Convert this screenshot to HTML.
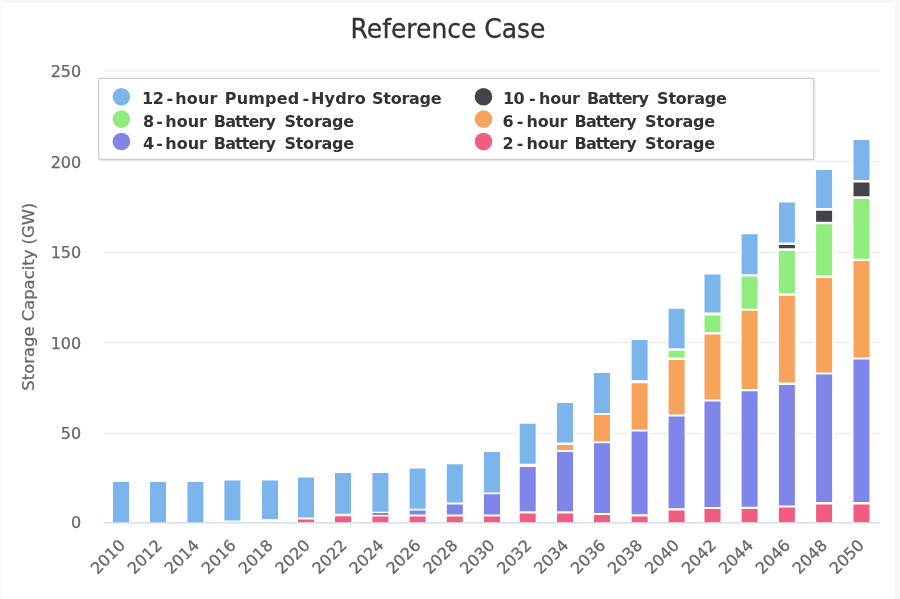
<!DOCTYPE html>
<html lang="en"><head><meta charset="utf-8"><title>Reference Case</title>
<style>html,body{margin:0;padding:0;background:#fff;overflow:hidden}svg{display:block}text{font-family:"DejaVu Sans","Liberation Sans",sans-serif}</style></head><body>
<svg xmlns="http://www.w3.org/2000/svg" width="900" height="599" viewBox="0 0 900 599">
<rect width="900" height="599" fill="#ffffff"/>
<rect x="0" y="0" width="900" height="3" fill="#f8f8f8"/>
<rect x="0" y="0" width="1.5" height="599" fill="#f8f8f8"/>
<rect x="894.5" y="0" width="5.5" height="599" fill="#f7f7f7"/>
<g stroke="#e6e6e6" stroke-width="1">
<line x1="104" x2="879.5" y1="71.0" y2="71.0"/>
<line x1="815" x2="879.5" y1="161.5" y2="161.5"/>
<line x1="104" x2="879.5" y1="252.4" y2="252.4"/>
<line x1="104" x2="879.5" y1="342.5" y2="342.5"/>
<line x1="104" x2="879.5" y1="433.3" y2="433.3"/>
</g>
<g>
<rect x="110.70" y="480" width="20.6" height="42.50" fill="#ffffff"/>
<rect x="113.00" y="482" width="16.0" height="40.50" fill="#7cb5ec"/>
<rect x="147.70" y="480" width="20.6" height="42.50" fill="#ffffff"/>
<rect x="150.00" y="482" width="16.0" height="40.50" fill="#7cb5ec"/>
<rect x="185.10" y="480" width="20.6" height="42.50" fill="#ffffff"/>
<rect x="187.40" y="482" width="16.0" height="40.50" fill="#7cb5ec"/>
<rect x="222.10" y="478.5" width="20.6" height="44.00" fill="#ffffff"/>
<rect x="224.40" y="480.5" width="16.0" height="40.00" fill="#7cb5ec"/>
<rect x="259.70" y="478.5" width="20.6" height="44.00" fill="#ffffff"/>
<rect x="262.00" y="480.5" width="16.0" height="38.50" fill="#7cb5ec"/>
<rect x="295.70" y="475.5" width="20.6" height="47.00" fill="#ffffff"/>
<rect x="298.00" y="477.5" width="16.0" height="40.00" fill="#7cb5ec"/>
<rect x="298.00" y="519.5" width="16.0" height="3.00" fill="#f15c80"/>
<rect x="332.70" y="471" width="20.6" height="51.50" fill="#ffffff"/>
<rect x="335.00" y="473" width="16.0" height="40.75" fill="#7cb5ec"/>
<rect x="335.00" y="516.25" width="16.0" height="6.25" fill="#f15c80"/>
<rect x="370.10" y="471" width="20.6" height="51.50" fill="#ffffff"/>
<rect x="372.40" y="473" width="16.0" height="38.75" fill="#7cb5ec"/>
<rect x="372.40" y="513" width="16.0" height="2.00" fill="#8085e9"/>
<rect x="372.40" y="516.5" width="16.0" height="6.00" fill="#f15c80"/>
<rect x="407.30" y="466.5" width="20.6" height="56.00" fill="#ffffff"/>
<rect x="409.60" y="468.5" width="16.0" height="40.25" fill="#7cb5ec"/>
<rect x="409.60" y="510.5" width="16.0" height="4.00" fill="#8085e9"/>
<rect x="409.60" y="516.5" width="16.0" height="6.00" fill="#f15c80"/>
<rect x="444.50" y="462.25" width="20.6" height="60.25" fill="#ffffff"/>
<rect x="446.80" y="464.25" width="16.0" height="38.25" fill="#7cb5ec"/>
<rect x="446.80" y="504.5" width="16.0" height="10.00" fill="#8085e9"/>
<rect x="446.80" y="516.5" width="16.0" height="6.00" fill="#f15c80"/>
<rect x="481.70" y="450" width="20.6" height="72.50" fill="#ffffff"/>
<rect x="484.00" y="452" width="16.0" height="40.50" fill="#7cb5ec"/>
<rect x="484.00" y="494.25" width="16.0" height="20.25" fill="#8085e9"/>
<rect x="484.00" y="516.5" width="16.0" height="6.00" fill="#f15c80"/>
<rect x="517.40" y="421.75" width="20.6" height="100.75" fill="#ffffff"/>
<rect x="519.70" y="423.75" width="16.0" height="40.00" fill="#7cb5ec"/>
<rect x="519.70" y="467" width="16.0" height="44.25" fill="#8085e9"/>
<rect x="519.70" y="513.5" width="16.0" height="9.00" fill="#f15c80"/>
<rect x="554.70" y="401" width="20.6" height="121.50" fill="#ffffff"/>
<rect x="557.00" y="403" width="16.0" height="39.50" fill="#7cb5ec"/>
<rect x="557.00" y="445" width="16.0" height="5.00" fill="#f7a35c"/>
<rect x="557.00" y="452" width="16.0" height="59.25" fill="#8085e9"/>
<rect x="557.00" y="513.5" width="16.0" height="9.00" fill="#f15c80"/>
<rect x="591.70" y="371" width="20.6" height="151.50" fill="#ffffff"/>
<rect x="594.00" y="373" width="16.0" height="40.00" fill="#7cb5ec"/>
<rect x="594.00" y="415" width="16.0" height="26.25" fill="#f7a35c"/>
<rect x="594.00" y="443.25" width="16.0" height="69.75" fill="#8085e9"/>
<rect x="594.00" y="515" width="16.0" height="7.50" fill="#f15c80"/>
<rect x="629.30" y="338" width="20.6" height="184.50" fill="#ffffff"/>
<rect x="631.60" y="340" width="16.0" height="40.00" fill="#7cb5ec"/>
<rect x="631.60" y="383.25" width="16.0" height="46.25" fill="#f7a35c"/>
<rect x="631.60" y="431.5" width="16.0" height="82.75" fill="#8085e9"/>
<rect x="631.60" y="516.5" width="16.0" height="6.00" fill="#f15c80"/>
<rect x="666.30" y="306.75" width="20.6" height="215.75" fill="#ffffff"/>
<rect x="668.60" y="308.75" width="16.0" height="39.50" fill="#7cb5ec"/>
<rect x="668.60" y="350.75" width="16.0" height="6.75" fill="#90ed7d"/>
<rect x="668.60" y="360" width="16.0" height="54.50" fill="#f7a35c"/>
<rect x="668.60" y="416.5" width="16.0" height="91.75" fill="#8085e9"/>
<rect x="668.60" y="510.5" width="16.0" height="12.00" fill="#f15c80"/>
<rect x="702.20" y="272.5" width="20.6" height="250.00" fill="#ffffff"/>
<rect x="704.50" y="274.5" width="16.0" height="38.00" fill="#7cb5ec"/>
<rect x="704.50" y="315.5" width="16.0" height="16.50" fill="#90ed7d"/>
<rect x="704.50" y="334.5" width="16.0" height="65.00" fill="#f7a35c"/>
<rect x="704.50" y="401.5" width="16.0" height="105.50" fill="#8085e9"/>
<rect x="704.50" y="509" width="16.0" height="13.50" fill="#f15c80"/>
<rect x="739.30" y="232.25" width="20.6" height="290.25" fill="#ffffff"/>
<rect x="741.60" y="234.25" width="16.0" height="40.00" fill="#7cb5ec"/>
<rect x="741.60" y="276.5" width="16.0" height="32.25" fill="#90ed7d"/>
<rect x="741.60" y="310.75" width="16.0" height="78.25" fill="#f7a35c"/>
<rect x="741.60" y="391.25" width="16.0" height="115.50" fill="#8085e9"/>
<rect x="741.60" y="509" width="16.0" height="13.50" fill="#f15c80"/>
<rect x="776.60" y="200.5" width="20.6" height="322.00" fill="#ffffff"/>
<rect x="778.90" y="202.5" width="16.0" height="40.00" fill="#7cb5ec"/>
<rect x="778.90" y="245" width="16.0" height="3.25" fill="#434348"/>
<rect x="778.90" y="250.75" width="16.0" height="42.50" fill="#90ed7d"/>
<rect x="778.90" y="295.75" width="16.0" height="86.75" fill="#f7a35c"/>
<rect x="778.90" y="385" width="16.0" height="120.50" fill="#8085e9"/>
<rect x="778.90" y="507.5" width="16.0" height="15.00" fill="#f15c80"/>
<rect x="813.80" y="168" width="20.6" height="354.50" fill="#ffffff"/>
<rect x="816.10" y="170" width="16.0" height="38.00" fill="#7cb5ec"/>
<rect x="816.10" y="210.75" width="16.0" height="11.00" fill="#434348"/>
<rect x="816.10" y="224.25" width="16.0" height="51.25" fill="#90ed7d"/>
<rect x="816.10" y="278" width="16.0" height="94.50" fill="#f7a35c"/>
<rect x="816.10" y="374.5" width="16.0" height="127.50" fill="#8085e9"/>
<rect x="816.10" y="504.5" width="16.0" height="18.00" fill="#f15c80"/>
<rect x="851.20" y="138" width="20.6" height="384.50" fill="#ffffff"/>
<rect x="853.50" y="140" width="16.0" height="40.00" fill="#7cb5ec"/>
<rect x="853.50" y="182.5" width="16.0" height="13.75" fill="#434348"/>
<rect x="853.50" y="199" width="16.0" height="59.75" fill="#90ed7d"/>
<rect x="853.50" y="261" width="16.0" height="96.50" fill="#f7a35c"/>
<rect x="853.50" y="359.5" width="16.0" height="142.50" fill="#8085e9"/>
<rect x="853.50" y="504.5" width="16.0" height="18.00" fill="#f15c80"/>
</g>
<line x1="104" x2="879.5" y1="522.8" y2="522.8" stroke="#ccd6eb" stroke-width="1.2"/>
<text transform="translate(448,38.4) scale(1,1.05)" text-anchor="middle" font-size="25" fill="#333333" stroke="#333333" stroke-width="0.3">Reference Case</text>
<g font-size="16" fill="#666666" stroke="#666666" stroke-width="0.25" text-anchor="end">
<text x="81.2" y="77.1">250</text>
<text x="81.2" y="168.0">200</text>
<text x="81.2" y="257.9">150</text>
<text x="81.2" y="348.9">100</text>
<text x="81.2" y="438.8">50</text>
<text x="81.2" y="528.3">0</text>
</g>
<text transform="translate(33.8,296.7) rotate(-90)" text-anchor="middle" font-size="16.4" fill="#666666" stroke="#666666" stroke-width="0.25">Storage Capacity (GW)</text>
<g font-size="16" fill="#666666" stroke="#666666" stroke-width="0.25" text-anchor="end">
<text transform="translate(126.2,546.3) rotate(-45)">2010</text>
<text transform="translate(163.1,546.3) rotate(-45)">2012</text>
<text transform="translate(200.1,546.3) rotate(-45)">2014</text>
<text transform="translate(237.0,546.3) rotate(-45)">2016</text>
<text transform="translate(274.0,546.3) rotate(-45)">2018</text>
<text transform="translate(310.9,546.3) rotate(-45)">2020</text>
<text transform="translate(347.8,546.3) rotate(-45)">2022</text>
<text transform="translate(384.8,546.3) rotate(-45)">2024</text>
<text transform="translate(421.7,546.3) rotate(-45)">2026</text>
<text transform="translate(458.7,546.3) rotate(-45)">2028</text>
<text transform="translate(495.6,546.3) rotate(-45)">2030</text>
<text transform="translate(532.5,546.3) rotate(-45)">2032</text>
<text transform="translate(569.5,546.3) rotate(-45)">2034</text>
<text transform="translate(606.4,546.3) rotate(-45)">2036</text>
<text transform="translate(643.4,546.3) rotate(-45)">2038</text>
<text transform="translate(680.3,546.3) rotate(-45)">2040</text>
<text transform="translate(717.2,546.3) rotate(-45)">2042</text>
<text transform="translate(754.2,546.3) rotate(-45)">2044</text>
<text transform="translate(791.1,546.3) rotate(-45)">2046</text>
<text transform="translate(828.1,546.3) rotate(-45)">2048</text>
<text transform="translate(865.0,546.3) rotate(-45)">2050</text>
</g>
<rect x="99.5" y="79.5" width="715" height="81" rx="2" fill="none" stroke="#000000" stroke-opacity="0.05" stroke-width="2"/>
<rect x="98.6" y="78.4" width="715.2" height="81.1" rx="1.5" fill="#ffffff" stroke="#cdcdcd" stroke-width="1.4"/>
<g font-size="16" font-weight="700" fill="#333333">
<circle cx="121.4" cy="96.7" r="8.8" fill="#7cb5ec" stroke="none"/>
<text x="142.0" y="104.1" dx="0 -0.43 2.72 2.11 0.11 0.11 0.11 0 1.84 0.18 0.18 0.18 0.18 0.18 3.3 1.91 0.13 0.13 0.13 0.13 0 0.74 -0.27 -0.27 -0.27 -0.27 -0.27 -0.27">12-hour Pumped-Hydro Storage</text>
<circle cx="121.4" cy="119.1" r="8.8" fill="#90ed7d" stroke="none"/>
<text x="143.0" y="126.5" dx="0 2.12 2.41 -0.02 -0.02 -0.02 0 1.34 -0.89 -0.89 -0.89 -0.89 -0.89 -0.89 0 2.8 -0.23 -0.23 -0.23 -0.23 -0.23 -0.23">8-hour Battery Storage</text>
<circle cx="121.4" cy="141.5" r="8.8" fill="#8085e9" stroke="none"/>
<text x="143.0" y="148.9" dx="0 2.12 2.41 -0.02 -0.02 -0.02 0 1.34 -0.89 -0.89 -0.89 -0.89 -0.89 -0.89 0 2.8 -0.23 -0.23 -0.23 -0.23 -0.23 -0.23">4-hour Battery Storage</text>
<circle cx="483.5" cy="96.7" r="8.8" fill="#434348" stroke="none"/>
<text x="503.0" y="104.1" dx="0 -0.63 4.32 3.41 -0.26 -0.26 -0.26 0 1.54 -0.92 -0.92 -0.92 -0.92 -0.92 -0.92 0 2.5 -0.22 -0.22 -0.22 -0.22 -0.22 -0.22">10-hour Battery Storage</text>
<circle cx="483.5" cy="119.1" r="8.8" fill="#f7a35c" stroke="none"/>
<text x="502.5" y="126.5" dx="0 3.17 3.06 -0.26 -0.26 -0.26 0 1.64 -0.89 -0.89 -0.89 -0.89 -0.89 -0.89 0 2.7 -0.17 -0.17 -0.17 -0.17 -0.17 -0.17">6-hour Battery Storage</text>
<circle cx="483.5" cy="141.5" r="8.8" fill="#f15c80" stroke="none"/>
<text x="502.5" y="148.9" dx="0 3.17 3.06 -0.26 -0.26 -0.26 0 1.64 -0.89 -0.89 -0.89 -0.89 -0.89 -0.89 0 2.7 -0.17 -0.17 -0.17 -0.17 -0.17 -0.17">2-hour Battery Storage</text>
</g>
</svg></body></html>
